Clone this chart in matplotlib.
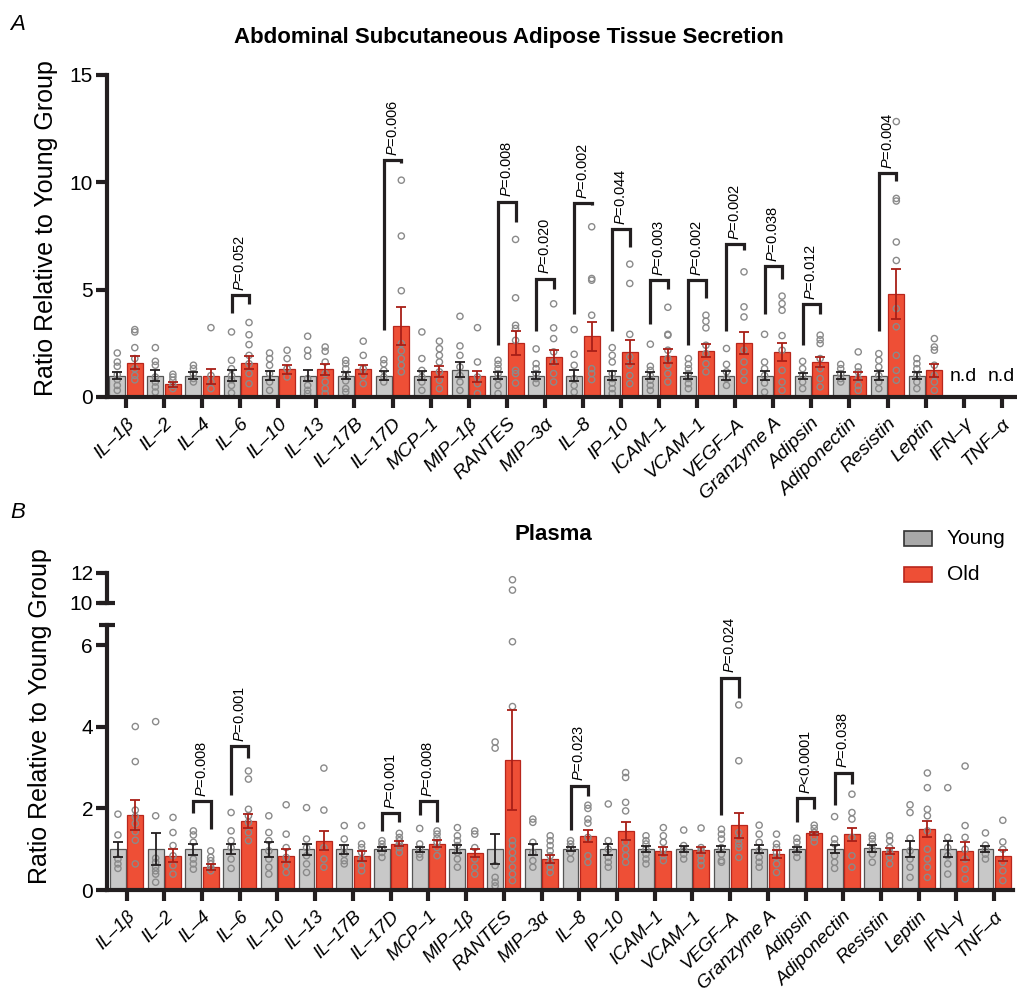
import matplotlib.pyplot as plt
import numpy as np
from matplotlib.patches import Rectangle

plt.rcParams['font.family'] = 'Liberation Sans'
plt.rcParams['mathtext.fontset'] = 'custom'
plt.rcParams['mathtext.it'] = 'Liberation Sans:italic'
plt.rcParams['mathtext.rm'] = 'Liberation Sans'

nan = np.nan

# ---------------- data ----------------
names = ['IL–1β', 'IL–2', 'IL–4', 'IL–6', 'IL–10', 'IL–13', 'IL–17B', 'IL–17D',
         'MCP–1', 'MIP–1β', 'RANTES', 'MIP–3α', 'IL–8', 'IP–10', 'ICAM–1',
         'VCAM–1', 'VEGF–A', 'Granzyme A', 'Adipsin', 'Adiponectin', 'Resistin',
         'Leptin', 'IFN–γ', 'TNF–α']

# Panel A: abdominal subcutaneous adipose tissue secretion
a_young_mean = [1.0, 1.0, 1.0, 1.0, 1.0, 1.0, 1.0, 1.0, 1.0, 1.28, 1.0, 1.0,
                1.0, 1.0, 1.0, 1.0, 1.0, 1.0, 1.0, 1.01, 1.0, 1.0, nan, nan]
a_young_sem = [0.17, 0.27, 0.15, 0.27, 0.2, 0.27, 0.17, 0.23, 0.23, 0.33, 0.17, 0.17,
               0.26, 0.23, 0.17, 0.14, 0.19, 0.23, 0.14, 0.16, 0.2, 0.17, nan, nan]
a_old_mean = [1.6, 0.6, 0.97, 1.6, 1.29, 1.29, 1.29, 3.3, 1.2, 0.97, 2.52, 1.87,
              2.83, 2.1, 1.91, 2.15, 2.52, 2.1, 1.63, 0.97, 4.79, 1.24, nan, nan]
a_old_sem = [0.3, 0.12, 0.35, 0.3, 0.2, 0.27, 0.22, 0.88, 0.26, 0.26, 0.56, 0.34,
             0.68, 0.56, 0.33, 0.3, 0.5, 0.42, 0.25, 0.19, 1.17, 0.3, nan, nan]
a_young_pts = [
    [2.05, 1.63, 1.43, 1.04, 0.81, 0.54, 0.31],
    [2.3, 1.66, 1.48, 0.93, 0.7, 0.47, 0.23],
    [1.48, 1.32, 1.09, 0.86, 0.7],
    [3.03, 1.71, 1.32, 1.0, 0.8, 0.54, 0.19],
    [2.05, 1.79, 1.48, 1.09, 0.7, 0.31],
    [2.83, 2.18, 1.9, 0.86, 0.54, 0.31, 0.16],
    [1.71, 1.55, 1.32, 1.0, 0.75, 0.39, 0.23],
    [1.74, 1.55, 1.24, 0.93, 0.7],
    [3.03, 1.79, 1.24, 0.93, 0.7, 0.31],
    [3.76, 2.38, 1.94, 1.4, 1.0, 0.7, 0.31],
    [1.71, 1.52, 1.32, 1.09, 0.86, 0.54, 0.16],
    [2.24, 1.55, 1.32, 1.09, 0.86, 0.65],
    [3.14, 1.99, 1.48, 0.86, 0.54, 0.23],
    [2.3, 1.94, 1.63, 1.09, 0.86, 0.65, 0.39, 0.16],
    [2.46, 1.43, 1.24, 1.0, 0.78, 0.54, 0.31],
    [1.79, 1.52, 1.32, 1.09, 0.86, 0.62, 0.39],
    [2.26, 1.52, 1.17, 0.86, 0.54],
    [2.92, 1.63, 1.32, 1.0, 0.65, 0.23],
    [1.66, 1.32, 1.0, 0.7, 0.39],
    [1.52, 1.32, 1.09, 0.86, 0.7],
    [2.02, 1.71, 1.4, 1.0, 0.7, 0.39],
    [1.79, 1.55, 1.32, 1.0, 0.7, 0.39],
    [], []]
a_old_pts = [
    [3.14, 3.03, 2.3, 1.79, 1.32, 1.0, 0.8],
    [1.06, 0.93, 0.78, 0.54, 0.39],
    [3.23, 1.0, 0.7, 0.39],
    [3.47, 2.9, 2.44, 1.94, 1.55, 1.09, 0.62],
    [2.18, 1.79, 1.32, 0.93],
    [2.33, 2.13, 1.63, 1.09, 0.7, 0.39, 0.16],
    [2.6, 1.94, 1.32, 1.0, 0.62],
    [10.1, 7.5, 4.95, 2.49, 2.15, 1.79, 1.48, 1.17],
    [2.6, 2.25, 1.94, 1.63, 1.17, 0.78, 0.39],
    [3.23, 1.63, 0.93, 0.62, 0.16],
    [7.34, 4.62, 3.34, 3.19, 2.64, 1.24, 1.09, 0.65],
    [4.34, 3.22, 2.72, 2.1, 1.63, 1.09, 0.7],
    [7.93, 5.52, 5.44, 3.81, 1.32, 1.09, 0.81],
    [6.19, 5.29, 2.92, 1.87, 1.48, 1.0, 0.62],
    [4.18, 2.92, 2.88, 2.18, 1.79, 1.48, 1.09, 0.7],
    [3.81, 3.53, 3.22, 2.41, 2.02, 1.55, 1.17],
    [5.83, 4.2, 3.73, 2.18, 1.63, 1.17, 0.78],
    [4.7, 4.35, 4.04, 2.86, 2.18, 1.24, 0.7, 0.31],
    [2.88, 2.67, 2.49, 1.79, 1.32, 0.86, 0.47],
    [2.1, 1.4, 1.17, 0.86, 0.54, 0.31],
    [12.83, 9.25, 9.13, 7.22, 6.36, 4.12, 3.27, 1.94, 1.24, 0.78],
    [2.72, 2.33, 2.18, 1.48, 1.0, 0.7, 0.31],
    [], []]
# (category index, bracket top, left leg end, right leg end, p text)
a_brackets = [(3, 4.74, 3.89, 4.31, '=0.052'), (7, 11.04, 3.11, 10.9, '=0.006'),
              (10, 9.1, 2.41, 8.16, '=0.008'), (11, 5.52, 3.08, 5.05, '=0.020'),
              (12, 9.05, 3.86, 8.95, '=0.002'), (13, 7.81, 3.08, 7.0, '=0.044'),
              (14, 5.44, 3.42, 5.05, '=0.003'), (15, 5.44, 2.41, 4.59, '=0.002'),
              (16, 7.11, 3.08, 6.87, '=0.002'), (17, 6.1, 3.86, 5.52, '=0.038'),
              (18, 4.32, 2.41, 3.86, '=0.012'), (20, 10.42, 3.08, 10.08, '=0.004')]

# Panel B: plasma
b_young_mean = [1.0, 1.0, 1.0, 1.0, 1.0, 1.0, 1.0, 1.0, 1.0, 1.0, 1.0, 1.0,
                1.0, 1.0, 1.0, 1.0, 1.0, 1.0, 1.0, 1.0, 1.02, 1.0, 1.0, 1.0]
b_young_sem = [0.18, 0.39, 0.14, 0.12, 0.18, 0.14, 0.11, 0.05, 0.06, 0.1, 0.37, 0.13,
               0.05, 0.13, 0.07, 0.07, 0.08, 0.1, 0.06, 0.1, 0.08, 0.19, 0.19, 0.07]
b_old_mean = [1.84, 0.84, 0.56, 1.7, 0.84, 1.21, 0.84, 1.14, 1.14, 0.9, 3.19, 0.76,
              1.33, 1.45, 0.96, 0.98, 1.59, 0.88, 1.39, 1.37, 0.96, 1.49, 0.96, 0.84]
b_old_sem = [0.36, 0.16, 0.08, 0.17, 0.16, 0.24, 0.12, 0.06, 0.09, 0.1, 1.22, 0.1,
             0.15, 0.22, 0.1, 0.07, 0.31, 0.1, 0.04, 0.16, 0.08, 0.2, 0.22, 0.13]
b_young_pts = [
    [1.86, 1.35, 0.76, 0.64, 0.53],
    [4.13, 1.82, 0.78, 0.68, 0.56, 0.47, 0.39, 0.19],
    [1.45, 1.35, 1.17, 0.76, 0.64, 0.51],
    [1.9, 1.45, 1.21, 1.04, 0.76, 0.53],
    [1.82, 1.41, 1.21, 0.96, 0.76, 0.56, 0.39],
    [2.02, 1.25, 1.04, 0.84, 0.64, 0.43],
    [1.58, 1.25, 1.04, 0.88, 0.72, 0.64],
    [1.21, 1.13, 1.04, 0.92, 0.8],
    [1.51, 1.13, 1.0, 0.88, 0.8],
    [1.53, 1.33, 1.21, 1.09, 0.92, 0.76, 0.56],
    [3.63, 3.48, 0.6, 0.31, 0.19, 0.1],
    [1.74, 1.66, 1.17, 0.92, 0.72, 0.56],
    [1.21, 1.13, 1.04, 0.92, 0.76],
    [2.11, 1.21, 1.0, 0.8, 0.68, 0.56],
    [1.33, 1.21, 1.13, 1.0, 0.88, 0.76, 0.64],
    [1.47, 1.09, 1.0, 0.88, 0.76],
    [1.49, 1.37, 1.25, 1.04, 0.88, 0.72, 0.68],
    [1.59, 1.37, 1.17, 0.96, 0.8, 0.68, 0.56],
    [1.27, 1.17, 1.04, 0.92, 0.8],
    [1.8, 1.25, 1.13, 0.84, 0.68, 0.53],
    [1.33, 1.25, 1.13, 1.0, 0.88, 0.68],
    [2.09, 1.9, 1.27, 0.96, 0.76, 0.56, 0.31],
    [2.51, 1.29, 1.04, 0.84, 0.64, 0.39],
    [1.4, 1.1, 1.0, 0.88, 0.76]]
b_old_pts = [
    [4.01, 3.15, 1.96, 1.8, 1.63, 1.43, 1.22, 0.64],
    [1.78, 1.41, 1.09, 0.84, 0.6, 0.39],
    [0.96, 0.8, 0.72, 0.64, 0.56, 0.47],
    [2.92, 2.72, 1.98, 1.82, 1.66, 1.41, 1.21],
    [2.09, 1.37, 1.04, 0.8, 0.6, 0.43],
    [2.99, 1.96, 1.04, 0.76, 0.56],
    [1.58, 1.13, 1.04, 0.92, 0.76, 0.6, 0.47],
    [1.39, 1.29, 1.21, 1.13, 1.04, 0.92],
    [1.45, 1.37, 1.27, 1.17, 1.04, 0.84],
    [1.45, 1.37, 1.04, 0.76, 0.56, 0.39],
    [11.55, 10.86, 6.09, 4.5, 1.21, 1.09, 0.92, 0.76, 0.56, 0.39, 0.23],
    [1.33, 1.21, 1.09, 0.96, 0.84, 0.68, 0.56, 0.43],
    [2.08, 2.0, 1.74, 1.64, 1.29, 0.84, 0.68],
    [2.88, 2.76, 2.15, 1.94, 1.17, 1.0, 0.84, 0.68],
    [1.53, 1.33, 1.17, 1.0, 0.84, 0.72],
    [1.52, 1.04, 0.96, 0.84, 0.72, 0.6],
    [4.54, 3.17, 1.41, 1.25, 1.13, 1.04, 0.8],
    [1.37, 1.13, 1.04, 0.92, 0.8, 0.64, 0.43],
    [1.59, 1.51, 1.41, 1.29, 1.18],
    [2.35, 1.9, 1.74, 1.29, 0.84, 0.56],
    [1.33, 1.21, 1.04, 0.92, 0.8, 0.64],
    [2.87, 2.51, 1.98, 1.82, 1.45, 1.0, 0.76, 0.56, 0.31],
    [3.04, 1.58, 1.29, 1.0, 0.76, 0.51, 0.27],
    [1.71, 1.18, 1.0, 0.68, 0.47, 0.23]]
b_brackets = [(2, 2.19, 1.9, 1.49, '=0.008'), (3, 3.52, 2.33, 3.25, '=0.001'),
              (7, 1.89, 1.45, 1.66, '=0.001'), (8, 2.19, 1.84, 1.66, '=0.008'),
              (12, 2.56, 1.48, 2.31, '=0.023'), (16, 5.21, 1.84, 4.72, '=0.024'),
              (18, 2.25, 1.67, 1.98, '<0.0001'), (19, 2.88, 2.09, 2.6, '=0.038')]

# ---------------- style ----------------
DARK = '#231f20'
GREY, GREY_E = '#c8c8c8', '#555555'
RED, RED_E = '#ee4f36', '#b8261c'
OFF, WID = 0.23, 0.42

W, H = 1017, 994
fig = plt.figure(figsize=(W / 100, H / 100), dpi=100)


def box(l, t, r, b):  # pixel box -> figure fraction
    return [l / W, 1 - b / H, (r - l) / W, (b - t) / H]


def draw(ax, ym, ysem, om, osem, ypts, opts, lab_size=14):
    x = np.arange(len(names))
    ax.bar(x - OFF, ym, WID, color=GREY, edgecolor=GREY_E, linewidth=0.9, zorder=1)
    ax.bar(x + OFF, om, WID, color=RED, edgecolor=RED_E, linewidth=0.9, zorder=1)
    for i in x:
        ax.scatter(np.full(len(ypts[i]), i - OFF), ypts[i], s=20, facecolors='none',
                   edgecolors='#8a8a8a', linewidths=1.0, zorder=2)
        ax.scatter(np.full(len(opts[i]), i + OFF), opts[i], s=20, facecolors='none',
                   edgecolors='#8a8a8a', linewidths=1.0, zorder=2)
    ax.errorbar(x - OFF, ym, yerr=ysem, fmt='none', ecolor=DARK, elinewidth=1.3,
                capsize=3.5, capthick=1.3, zorder=3)
    ax.errorbar(x + OFF, om, yerr=osem, fmt='none', ecolor='#a81f17', elinewidth=1.3,
                capsize=3.5, capthick=1.3, zorder=3)
    for s in ['top', 'right']:
        ax.spines[s].set_visible(False)
    for s in ['left', 'bottom']:
        ax.spines[s].set_linewidth(3)
        ax.spines[s].set_color(DARK)
    ax.tick_params(direction='out', length=8, width=3, color=DARK, labelsize=15, pad=2)
    ax.set_xticks(x)
    ax.set_xticklabels(names, rotation=45, ha='right', rotation_mode='anchor',
                       fontstyle='italic', fontsize=lab_size)
    ax.tick_params(axis='x', pad=5)


def bracket(ax, i, top, lb, rb, txt):
    ax.plot([i - OFF, i - OFF, i + OFF, i + OFF], [lb, top, top, rb], color=DARK,
            lw=2.3, solid_joinstyle='miter', solid_capstyle='butt', zorder=4)
    ax.annotate('$P$' + txt, (i, top), xytext=(0, 3), textcoords='offset points',
                rotation=90, ha='center', va='bottom', fontsize=10.5)


# ---------------- panel A ----------------
axA = fig.add_axes(box(107, 75, 1017, 397))
draw(axA, a_young_mean, a_young_sem, a_old_mean, a_old_sem, a_young_pts, a_old_pts)
axA.set_xlim(-0.5, 23.4)
axA.set_ylim(0, 15)
axA.set_yticks([0, 5, 10, 15])
for b in a_brackets:
    bracket(axA, *b)
for i in [22, 23]:
    axA.text(i, 0.75, 'n.d', ha='center', va='baseline', fontsize=14)

# ---------------- panel B (broken y axis) ----------------
axB = fig.add_axes(box(107, 625, 1013, 890))
draw(axB, b_young_mean, b_young_sem, b_old_mean, b_old_sem, b_young_pts, b_old_pts,
     lab_size=13.5)
axB.set_xlim(-0.52, 23.5)
axB.set_ylim(0, 6.5)
axB.set_yticks([0, 2, 4, 6])
for b in b_brackets:
    bracket(axB, *b)

axBh = fig.add_axes(box(107, 573, 1013, 603))
draw(axBh, b_young_mean, b_young_sem, b_old_mean, b_old_sem, b_young_pts, b_old_pts)
axBh.set_xlim(-0.52, 23.5)
axBh.set_ylim(10, 12)
axBh.set_yticks([10, 12])
axBh.spines['bottom'].set_visible(False)
axBh.set_xticks([])
axBh.patch.set_visible(False)
# caps at the axis break
axB.plot([-0.009, 0.009], [1, 1], transform=axB.transAxes, color=DARK, lw=3,
         clip_on=False, solid_capstyle='butt')
axBh.plot([-0.009, 0.009], [0, 0], transform=axBh.transAxes, color=DARK, lw=3,
          clip_on=False, solid_capstyle='butt')

# ---------------- text ----------------
fig.text(46 / W, 1 - 228 / H, 'Ratio Relative to Young Group', rotation=90,
         ha='center', va='center', fontsize=18)
fig.text(40 / W, 1 - 716 / H, 'Ratio Relative to Young Group', rotation=90,
         ha='center', va='center', fontsize=18)
fig.text(509 / W, 1 - 37 / H, 'Abdominal Subcutaneous Adipose Tissue Secretion',
         ha='center', va='center', fontsize=16, fontweight='bold')
fig.text(553 / W, 1 - 535 / H, 'Plasma', ha='center', va='center', fontsize=16,
         fontweight='bold')
fig.text(10 / W, 1 - 25 / H, 'A', fontsize=16, fontstyle='italic', va='center')
fig.text(10 / W, 1 - 512 / H, 'B', fontsize=16, fontstyle='italic', va='center')

# legend
for yc, fc, ec, lab in [(538, '#a9a9a9', '#333333', 'Young'), (574, RED, RED_E, 'Old')]:
    fig.add_artist(Rectangle((904 / W, 1 - (yc + 7.5) / H), 28 / W, 15 / H,
                             facecolor=fc, edgecolor=ec, linewidth=1.2,
                             transform=fig.transFigure))
    fig.text(947 / W, 1 - yc / H, lab, ha='left', va='center', fontsize=15)

fig.savefig('out.png', dpi=100)
